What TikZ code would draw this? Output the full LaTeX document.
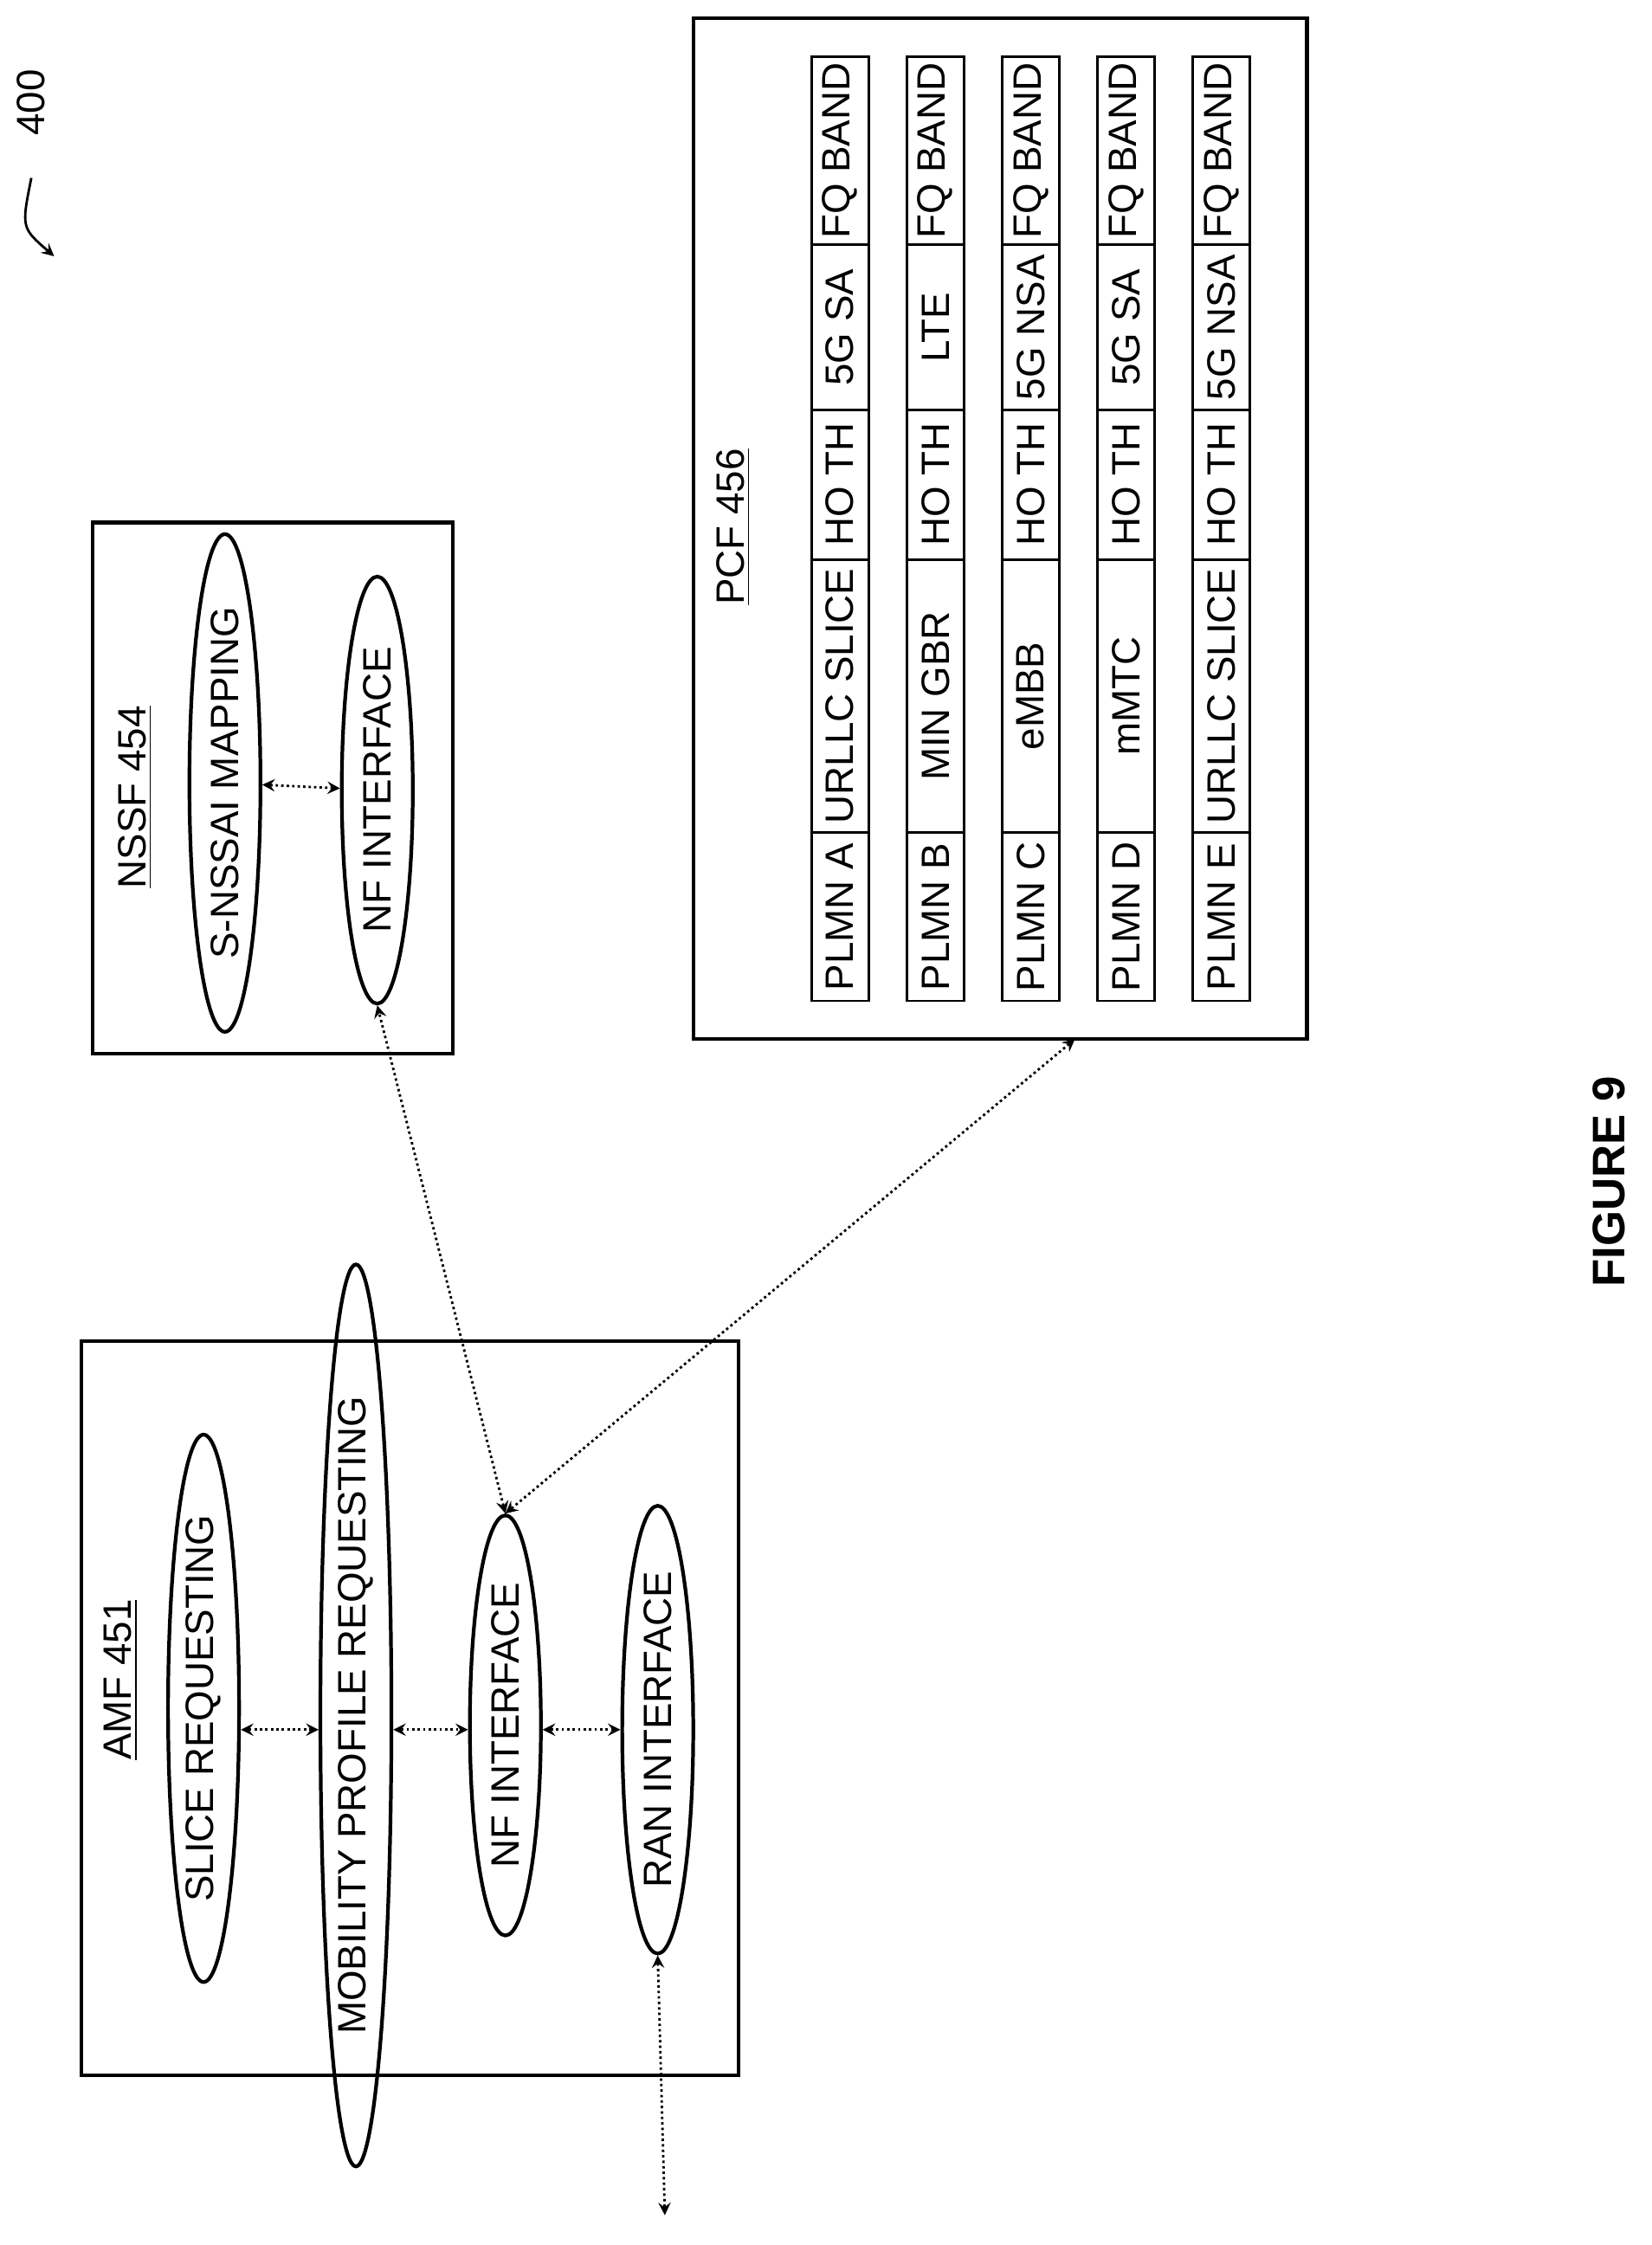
\documentclass[tikz,border=0pt]{standalone}
\usepackage{fontspec}
\setmainfont{Liberation Sans}
\usetikzlibrary{shapes.geometric,arrows,positioning}
\tikzset
{
    func/.style = {ellipse, draw=black, very thick, rotate=90, inner sep=0pt, minimum height=0.82cm, align=center},
    box/.style = {rectangle, draw=black, very thick},
    cell/.style = {rectangle, draw=black, thick, rotate=90, minimum height=0.66cm, inner sep=0pt},
    title/.style = {rotate=90},
    link/.style = {thick, densely dotted, <->, >=stealth},
}
\begin{document}
\begin{tikzpicture}[x=0.01644cm, y=-0.01644cm, font=\fontsize{13}{15}\selectfont]
		\useasboundingbox (0,0) rectangle (1160,1577);
		% label 400
		\node[title] (ref) at (22,72) {400};
		\draw[thick, ->, >=stealth] (22,125) .. controls (15,160) .. (38,180);
		
		% NSSF
		\node[box, minimum width=253*0.01644cm, minimum height=373*0.01644cm] (nssf) at (191.5,553.5) {};
		\node[title] (nssfl) at (95,560) {\underline{NSSF 454}};
		\node[func, minimum width=5.1cm] (map) at (158,550) {S-NSSAI MAPPING};
		\node[func, minimum width=4.93cm] (nfn) at (265,555) {NF INTERFACE};
		\draw[link] (map) -- (nfn);
		
		% PCF
		\node[box, minimum width=431*0.01644cm, minimum height=717*0.01644cm] (pcf) at (702.5,371.5) {};
		\node[title] (pcfl) at (515,370) {\underline{PCF 456}};
		\foreach \x/\n/\sl/\rt in {590/A/URLLC SLICE/5G SA, 657/B/MIN GBR/LTE, 724/C/eMBB/5G NSA, 791/D/mMTC/5G SA, 858/E/URLLC SLICE/5G NSA}
		{
			\node[cell, minimum width=118*0.01644cm] (p\n1) at (\x,644) {PLMN \n};
			\node[cell, minimum width=192*0.01644cm] (p\n2) at (\x,489) {\sl};
			\node[cell, minimum width=105*0.01644cm] (p\n3) at (\x,340.5) {HO TH};
			\node[cell, minimum width=116*0.01644cm] (p\n4) at (\x,230) {\rt};
			\node[cell, minimum width=132*0.01644cm] (p\n5) at (\x,106) {FQ BAND};
		}
		
		% AMF
		\node[box, minimum width=462*0.01644cm, minimum height=516*0.01644cm] (amf) at (288,1200) {};
		\node[title] (amfl) at (85,1180) {\underline{AMF 451}};
		\node[func, minimum width=5.43cm] (slice) at (143,1200) {SLICE REQUESTING};
		\node[func, minimum width=7.9cm] (mob) at (250,1205) {MOBILITY PROFILE REQUESTING};
		\node[func, minimum width=4.85cm] (nfa) at (355,1212) {NF INTERFACE};
		\node[func, minimum width=4.93cm] (ran) at (462,1215) {RAN INTERFACE};
		\coordinate (ext) at (467,1556);
		\coordinate (pcfc) at (755,730);
		\draw[link] (slice.south |- 0,1215) -- (mob.north |- 0,1215);
		\draw[link] (mob.south |- 0,1215) -- (nfa.north |- 0,1215);
		\draw[link] (nfa.south |- 0,1215) -- (ran.north |- 0,1215);
		\draw[link] (ran.west) -- (ext);
		\draw[link] (nfa.east) -- (nfn.west);
		\draw[link] (nfa.east) -- (pcfc);
		
		\node[title, font=\fontsize{15}{17}\selectfont\bfseries] (fig) at (1130,830) {FIGURE 9};
\end{tikzpicture}
\end{document}
